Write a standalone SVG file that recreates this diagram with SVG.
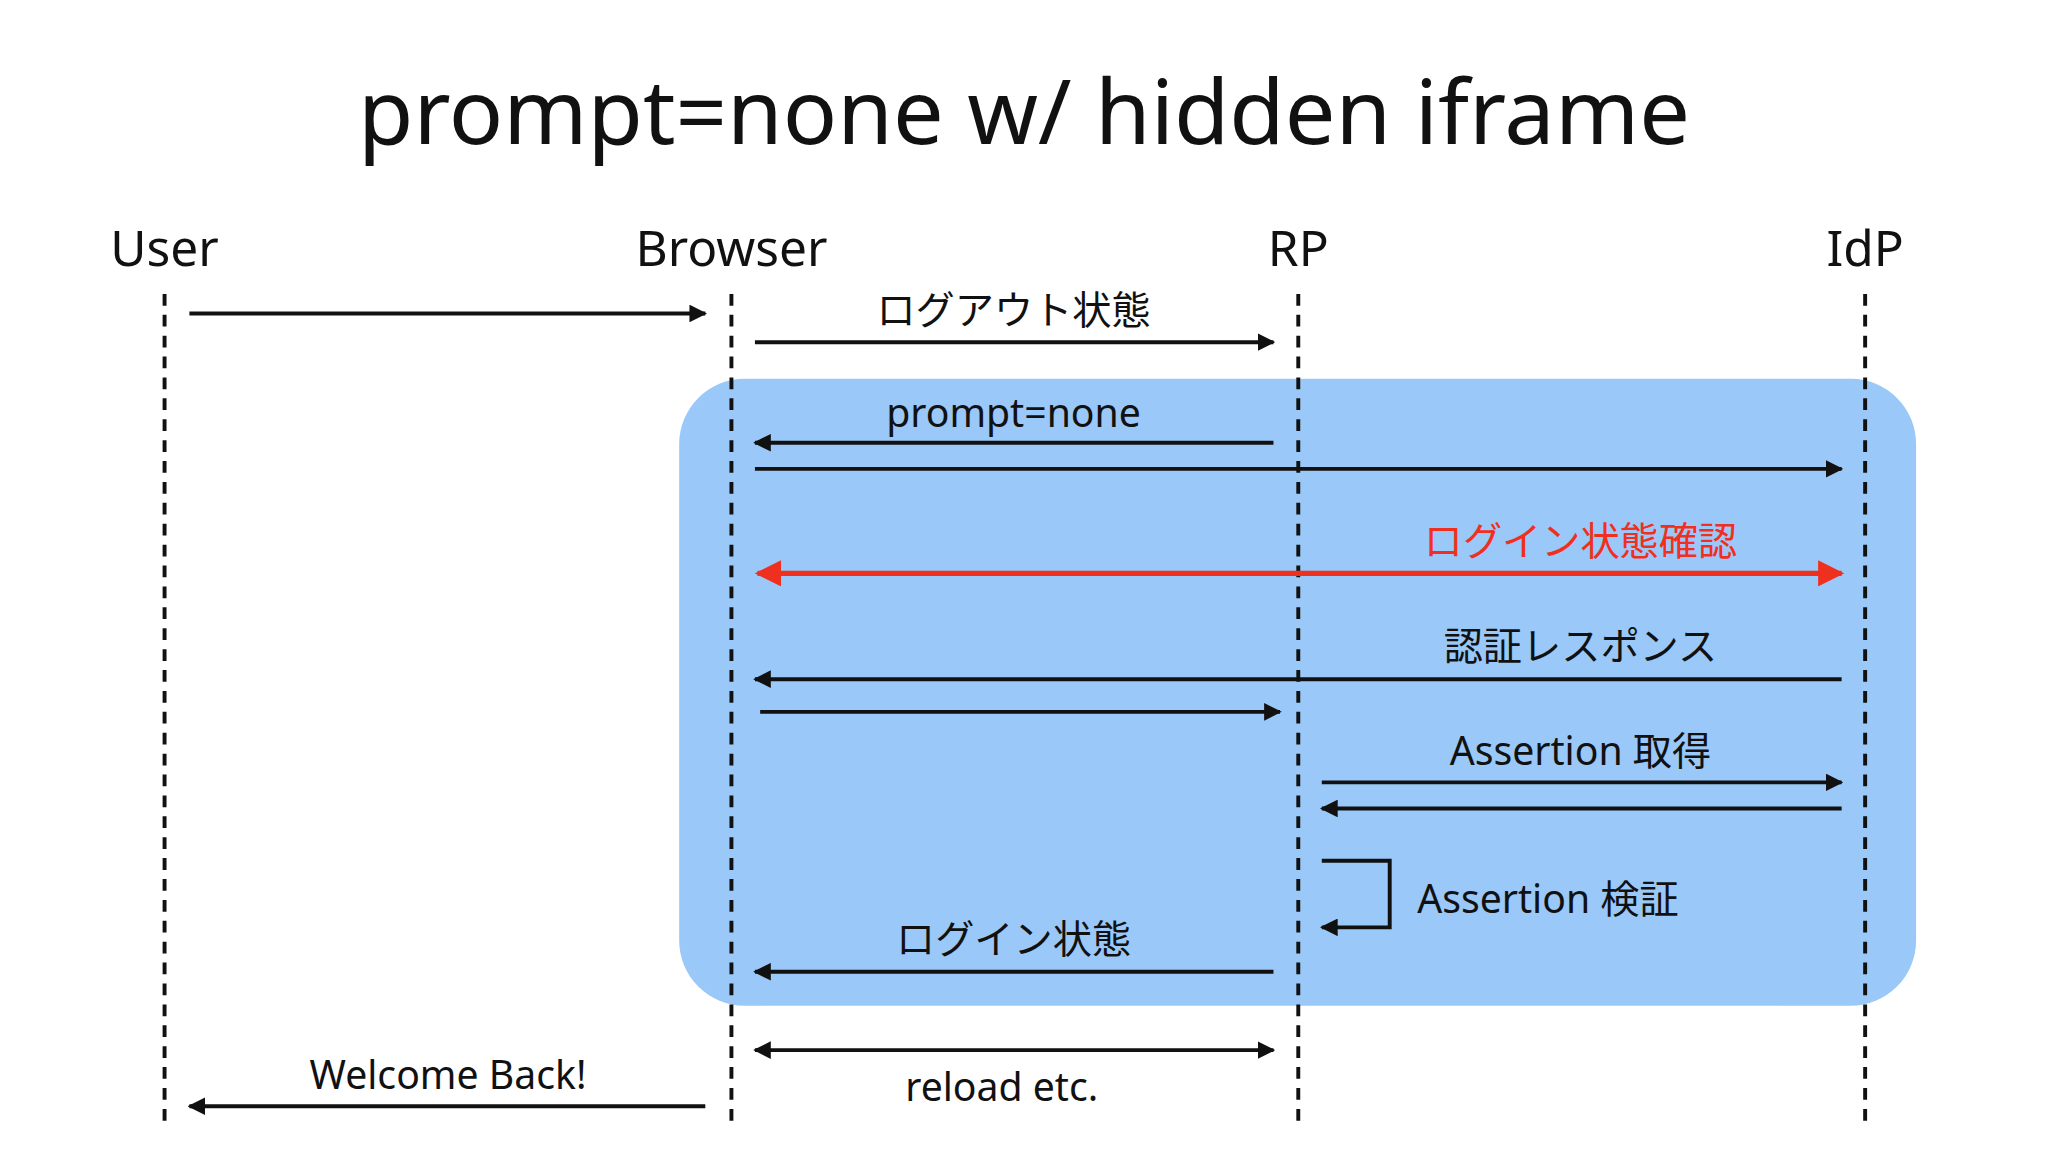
<svg xmlns="http://www.w3.org/2000/svg" width="2048" height="1152" viewBox="0 0 2048 1152">
<style>
text{font-family:"Noto Sans","Noto Sans CJK JP",sans-serif;fill:#111}
.t{font-size:69px;text-anchor:middle}
.h{font-size:38px;text-anchor:middle}
.l{font-size:30px;text-anchor:middle}
.ll{stroke:#111;stroke-width:3;stroke-dasharray:9,7}
.a{stroke:#111;stroke-width:3;fill:none;marker-end:url(#ah)}
.r{stroke:#f0301e;stroke-width:4;fill:none;marker-end:url(#rh);marker-start:url(#rs)}
</style>
<defs>
<marker id="ah" viewBox="0 0 10 10" refX="9" refY="5" markerWidth="4.5" markerHeight="4.5" orient="auto-start-reverse" markerUnits="strokeWidth"><path d="M0,0L10,5L0,10z" fill="#111"/></marker>
<marker id="rh" viewBox="0 0 10 10" refX="9" refY="5" markerWidth="5" markerHeight="5" orient="auto-start-reverse" markerUnits="strokeWidth"><path d="M0,0L10,5L0,10z" fill="#f0301e"/></marker>
<marker id="rs" viewBox="0 0 10 10" refX="9" refY="5" markerWidth="5" markerHeight="5" orient="auto-start-reverse" markerUnits="strokeWidth"><path d="M0,0L10,5L0,10z" fill="#f0301e"/></marker>
</defs>
<rect width="2048" height="1152" fill="#fff"/>
<g transform="scale(1.30612)">
<rect id="iframe" x="520" y="290" width="947" height="480" rx="50" fill="#9ac8f8"/>
<text class="t" x="784" y="110">prompt=none w/ hidden iframe</text>
<g id="user"><text class="h" x="126" y="204">User</text><line class="ll" x1="126" y1="225" x2="126" y2="858"/></g>
<g id="browser"><text class="h" x="560" y="204">Browser</text><line class="ll" x1="560" y1="225" x2="560" y2="858"/></g>
<g id="rp"><text class="h" x="994" y="204">RP</text><line class="ll" x1="994" y1="225" x2="994" y2="858"/></g>
<g id="idp"><text class="h" x="1428" y="204">IdP</text><line class="ll" x1="1428" y1="225" x2="1428" y2="858"/></g>
<g id="connectors">
<line class="a" x1="145" y1="240" x2="540" y2="240"/>
<line class="a" x1="578" y1="262" x2="975" y2="262"/>
<text class="l" x="776" y="248">ログアウト状態</text>
<line class="a" x1="975" y1="339" x2="578" y2="339"/>
<text class="l" x="776" y="327">prompt=none</text>
<line class="a" x1="578" y1="359" x2="1410" y2="359"/>
<line class="r" x1="580" y1="439" x2="1410" y2="439"/>
<text class="l" x="1210" y="425" style="fill:#f0301e">ログイン状態確認</text>
<line class="a" x1="1410" y1="520" x2="578" y2="520"/>
<text class="l" x="1210" y="505">認証レスポンス</text>
<line class="a" x1="582" y1="545" x2="980" y2="545"/>
<line class="a" x1="1012" y1="599" x2="1410" y2="599"/>
<text class="l" x="1210" y="586">Assertion 取得</text>
<line class="a" x1="1410" y1="619" x2="1012" y2="619"/>
<polyline class="a" points="1012,659 1064,659 1064,710 1012,710"/>
<text class="l" x="1085" y="699" style="text-anchor:start">Assertion 検証</text>
<line class="a" x1="975" y1="744" x2="578" y2="744"/>
<text class="l" x="776" y="730">ログイン状態</text>
<line class="a" x1="578" y1="804" x2="975" y2="804" style="marker-start:url(#ah)"/>
<text class="l" x="767" y="843">reload etc.</text>
<line class="a" x1="540" y1="847" x2="145" y2="847"/>
<text class="l" x="343" y="834">Welcome Back!</text>
</g>
</g>
</svg>
